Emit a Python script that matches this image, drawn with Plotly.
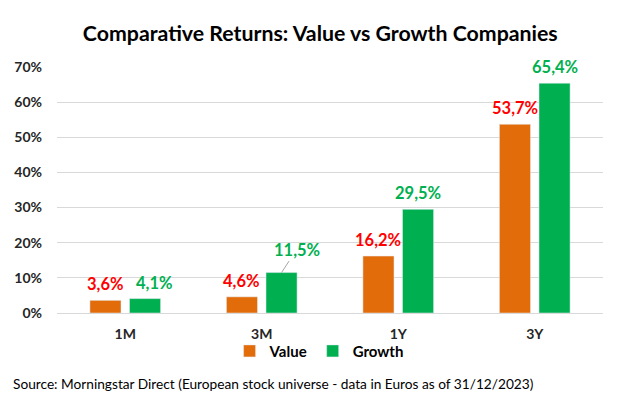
import plotly.graph_objects as go

categories = ["1M", "3M", "1Y", "3Y"]
value_returns = [3.6, 4.6, 16.2, 53.7]
growth_returns = [4.1, 11.5, 29.5, 65.4]
y_ticks = [0, 10, 20, 30, 40, 50, 60, 70]

FONT = "Lato"
ORANGE = "#E36C0A"
GREEN = "#00B050"

def fmt(v):
    return f"{v:.1f}%".replace(".", ",")

fig = go.Figure()
fig.add_bar(name="Value", x=categories, y=value_returns, marker_color=ORANGE)
fig.add_bar(name="Growth", x=categories, y=growth_returns, marker_color=GREEN)

off = 0.145
lab = 16.5
anns = []
for i, (v, g) in enumerate(zip(value_returns, growth_returns)):
    anns.append(dict(x=i - off, y=v, xref="x", yref="y", text=fmt(v), showarrow=False,
                     yshift=16, font=dict(color="#FF0000", size=lab, family=FONT, weight="bold")))
    if categories[i] == "3M":
        anns.append(dict(x=i + off, y=g, xref="x", yref="y", text=fmt(g), showarrow=True,
                         arrowhead=0, arrowwidth=1, arrowcolor="#A6A6A6", ax=15, ay=-23,
                         standoff=0, startstandoff=0,
                         font=dict(color=GREEN, size=lab, family=FONT, weight="bold")))
    else:
        anns.append(dict(x=i + off, y=g, xref="x", yref="y", text=fmt(g), showarrow=False,
                         yshift=16, xshift=(9 if categories[i] == "1M" else 0),
                         font=dict(color=GREEN, size=lab, family=FONT, weight="bold")))

anns.append(dict(x=0, y=0, xref="paper", yref="paper", xanchor="left", yanchor="middle",
                 xshift=-46, yshift=-70, showarrow=False,
                 text="Source: Morningstar Direct (European stock universe - data in Euros as of 31/12/2023)",
                 font=dict(size=13.7, color="#000000", family=FONT)))

fig.update_layout(
    width=628, height=403,
    margin=dict(l=57, r=25, t=67, b=90),
    paper_bgcolor="white", plot_bgcolor="white",
    barmode="group", bargap=0.42, bargroupgap=0.215,
    title=dict(text="<b>Comparative Returns: Value vs Growth Companies</b>",
               xref="container", x=0.51, xanchor="center", y=0.918, yanchor="middle",
               font=dict(size=21.3, family=FONT, color="#000000")),
    font=dict(family=FONT),
    showlegend=True,
    legend=dict(orientation="h", x=0.48, xanchor="center", y=-0.155, yanchor="middle",
                bgcolor="rgba(0,0,0,0)",
                font=dict(size=15, family=FONT, color="#000000", weight="bold"),
                itemwidth=30, tracegroupgap=0),
    annotations=anns,
)
fig.update_xaxes(showgrid=False, showline=True, linecolor="#D9D9D9", linewidth=1,
                 tickfont=dict(size=14, family=FONT, color="#262626", weight="bold"),
                 ticks="", ticklabelstandoff=8)
fig.update_yaxes(range=[0, 70], tickvals=y_ticks, ticktext=[f"{t}%" for t in y_ticks],
                 showgrid=True, gridcolor="#D9D9D9", gridwidth=1, zeroline=False,
                 tickfont=dict(size=14, family=FONT, color="#262626", weight="bold"),
                 ticklabelstandoff=14)

fig.write_html("out.html", config={"displayModeBar": False},
               post_script="document.body.style.margin='0';")
